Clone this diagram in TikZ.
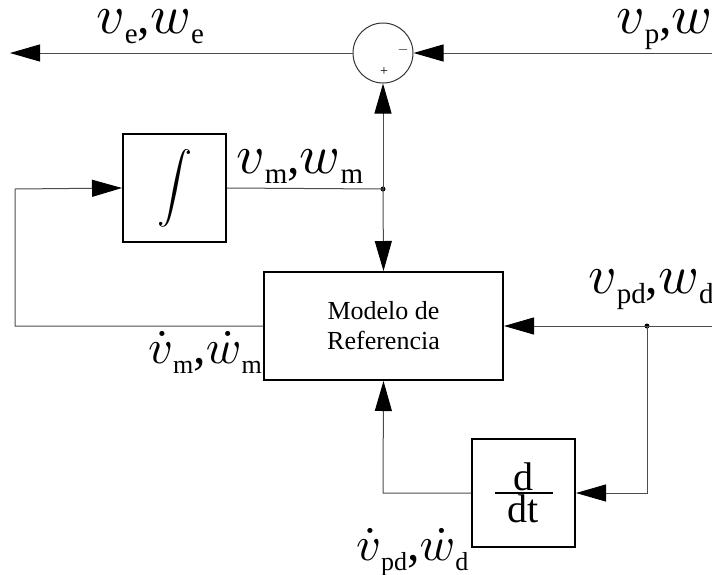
\documentclass[tikz,border=0pt]{standalone}
\usepackage{graphicx}
\usepackage{fontspec}
\setmainfont{Liberation Serif}
\usetikzlibrary{arrows.meta}
\newcommand\sbs[1]{\raisebox{-0.2em}{\fontsize{29}{29}\selectfont #1}}
\newcommand\sbd[1]{\raisebox{-0.2em}{\fontsize{26}{26}\selectfont #1}}
\newcommand\mv[1]{\scalebox{5.5}{\normalsize$#1$}}
\newcommand\md[1]{\scalebox{4.8}{\normalsize$#1$}}
\newcommand\bigtxt[1]{\hbox{\fontsize{40}{40}\selectfont #1}}
\tikzset{
  conn/.style={draw=black!70, line width=1pt},
  arr/.style={conn, -{Triangle[length=30pt,width=17pt,color=black]}},
  blk/.style={draw=black, line width=2pt, fill=white, inner sep=0pt},
  lab/.style={inner sep=0pt, font=\fontsize{50}{50}\selectfont},
  dotj/.style={circle, fill=black, inner sep=0pt, minimum size=5pt},
}
\begin{document}
\begin{tikzpicture}[x=1pt,y=-1pt]
\useasboundingbox (0,0) rectangle (712,574);
% blocks
\node[circle, draw=black!80, line width=1pt, minimum size=60pt, inner sep=0pt] (sum) at (383,53) {};
\node[inner sep=0pt] (minus) at (403,50) {\scalebox{1.4}{$-$}};
\node[inner sep=0pt, font=\fontsize{14}{14}\selectfont] (plus) at (384,72) {+};
\node[blk, minimum width=103pt, minimum height=108pt] (integ) at (174.5,188) {\scalebox{3.5}{$\displaystyle\int$}};
\node[blk, minimum width=239pt, minimum height=108pt, align=center, font=\fontsize{26}{30}\selectfont] (model) at (383.5,326) {Modelo de\\Referencia};
\node[blk, minimum width=103pt, minimum height=108pt] (ddt) at (523.5,493) {\normalsize$\bigtxt{d}\above1.2pt\bigtxt{\makebox[58pt]{dt}}$};
% coordinates
\coordinate (outL) at (10,53);
\coordinate (inR) at (712,53);
\coordinate (rin) at (712,326);
\node[dotj] (j1) at (383,189) {};
\node[dotj] (j2) at (647,326) {};
\coordinate (fb1) at (15,326);
\coordinate (fb2) at (15,189);
\coordinate (d1) at (647,493);
\coordinate (d2) at (383,493);
% connectors
\draw[arr] (sum.west) -- (outL);
\draw[arr] (inR) -- (sum.east);
\draw[arr] (j1.center) -- (sum.south);
\draw[conn] (integ.east) -- (j1.center);
\draw[arr] (j1.center) -- (model.north);
\draw[arr] (model.west) -- (fb1) -- (fb2) -- (integ.west);
\draw[arr] (rin) -- (model.east);
\draw[arr] (j2.center) -- (d1) -- (ddt.east);
\draw[arr] (ddt.west) -- (d2) -- (model.south);
% labels
\node[lab, anchor=base west] (le) at (96,33) {\mv{v}\sbs{e},\mv{w}\sbs{e}};
\node[lab, anchor=base west] (lp) at (616,33) {\mv{v}\sbs{p},\mv{w}};
\node[lab, anchor=base west] (lm) at (236,173) {\mv{v}\sbs{m},\mv{w}\sbs{m}};
\node[lab, anchor=base west] (lpd) at (588,293) {\mv{v}\sbs{pd},\mv{w}\sbs{d}};
\node[lab, anchor=base east] (ldm) at (262,363) {\md{\dot v}\sbd{m},\md{\dot w}\sbd{m}};
\node[lab, anchor=base west] (ldpd) at (356,560) {\md{\dot v}\sbd{pd},\md{\dot w}\sbd{d}};
\end{tikzpicture}
\end{document}
